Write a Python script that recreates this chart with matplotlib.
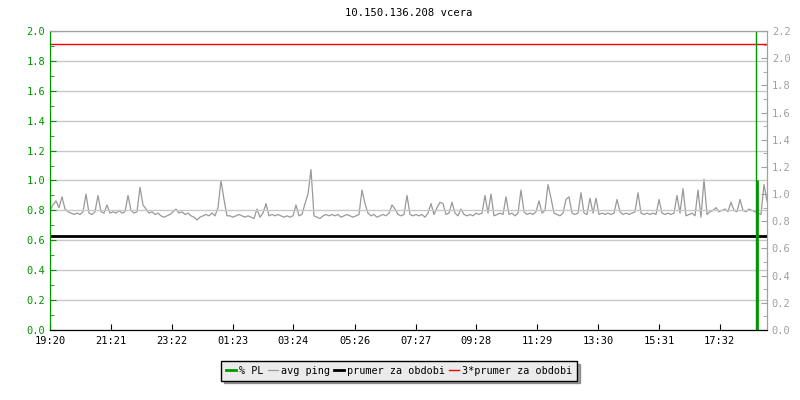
import matplotlib
matplotlib.use('Agg')
import matplotlib.pyplot as plt
import numpy as np
from matplotlib.ticker import MultipleLocator, FormatStrFormatter

title = '10.150.136.208 vcera'

# casova osa v minutach od 19:20
tick_minutes = [0, 121, 242, 363, 484, 606, 727, 848, 969, 1090, 1211, 1332]
tick_labels = ['19:20', '21:21', '23:22', '01:23', '03:24', '05:26',
               '07:27', '09:28', '11:29', '13:30', '15:31', '17:32']
t_end = 1426

# avg ping (prava osa)
ping = [
    0.88, 0.92, 0.95, 0.90, 0.98, 0.89, 0.87, 0.86, 0.85, 0.86,
    0.85, 0.87, 1.00, 0.86, 0.85, 0.87, 0.99, 0.87, 0.86, 0.92,
    0.86, 0.87, 0.86, 0.88, 0.86, 0.87, 0.99, 0.88, 0.86, 0.87,
    1.05, 0.92, 0.89, 0.86, 0.87, 0.85, 0.86, 0.84, 0.83, 0.84,
    0.85, 0.87, 0.89, 0.86, 0.87, 0.85, 0.86, 0.84, 0.83, 0.81,
    0.83, 0.84, 0.85, 0.84, 0.86, 0.84, 0.90, 1.10, 0.96, 0.84,
    0.84, 0.83, 0.84, 0.85, 0.84, 0.83, 0.84, 0.83, 0.82, 0.89,
    0.83, 0.86, 0.93, 0.84, 0.85, 0.84, 0.85, 0.84, 0.83, 0.84,
    0.83, 0.84, 0.92, 0.84, 0.85, 0.93, 1.00, 1.18, 0.84, 0.83,
    0.82, 0.84, 0.85, 0.84, 0.85, 0.84, 0.85, 0.83, 0.84, 0.85,
    0.84, 0.83, 0.84, 0.85, 1.03, 0.93, 0.86, 0.84, 0.85, 0.83,
    0.84, 0.85, 0.84, 0.86, 0.92, 0.89, 0.85, 0.84, 0.85, 0.99,
    0.85, 0.84, 0.85, 0.84, 0.85, 0.83, 0.86, 0.93, 0.85, 0.90,
    0.94, 0.93, 0.85, 0.86, 0.94, 0.86, 0.84, 0.89, 0.85, 0.84,
    0.85, 0.84, 0.86, 0.85, 0.86, 0.99, 0.86, 1.00, 0.84, 0.85,
    0.86, 0.85, 0.98, 0.85, 0.86, 0.84, 0.86, 1.03, 0.87, 0.85,
    0.86, 0.85, 0.87, 0.95, 0.86, 0.88, 1.07, 0.97, 0.86, 0.85,
    0.84, 0.86, 0.96, 0.98, 0.86, 0.85, 0.86, 1.01, 0.86, 0.85,
    0.97, 0.86, 0.97, 0.85, 0.86, 0.85, 0.86, 0.85, 0.86, 0.96,
    0.87, 0.85, 0.86, 0.85, 0.86, 0.87, 1.01, 0.86, 0.85, 0.86,
    0.85, 0.86, 0.85, 0.96, 0.86, 0.85, 0.86, 0.85, 0.86, 0.99,
    0.86, 1.04, 0.84, 0.85, 0.86, 0.84, 1.03, 0.83, 1.11, 0.85,
    0.87, 0.88, 0.90, 0.87, 0.88, 0.89, 0.87, 0.94, 0.88, 0.87,
    0.96, 0.88, 0.87, 0.89, 0.88, 0.87, 0.86, 0.85, 1.07, 0.95,
]
prumer = 0.695
prumer3 = 2.105

# % PL (leva osa)
pl_time = [1405, 1407]
pl_value = [2.5, 1.0]
pl_width = [1, 2]

GREEN = '#009600'
GRAY = '#a0a0a0'
PING = '#999999'
GRID = '#c8c8c8'
FS = 7.5

plt.rcParams['font.family'] = ['DejaVu Sans Mono']
plt.rcParams['font.size'] = FS

fig = plt.figure(figsize=(8, 4), dpi=100)
ax = fig.add_axes([50 / 800, 1 - 330 / 400, 717 / 800, 299 / 400])
ax2 = ax.twinx()
ax.set_zorder(ax2.get_zorder() + 1)
ax.patch.set_visible(False)

t = np.linspace(0, t_end, len(ping))
ax2.plot(t, ping, color=PING, lw=0.9, label='avg ping')
ax2.axhline(prumer, color='black', lw=2, label='prumer za obdobi')
ax2.axhline(prumer3, color='red', lw=1, label='3*prumer za obdobi')

for x, v, w in zip(pl_time, pl_value, pl_width):
    ax.vlines(x, 0, v, color=GREEN, lw=w)
pl_handle, = ax.plot([], [], color=GREEN, lw=2, label='% PL')

ax.set_xlim(0, t_end)
ax.set_ylim(0, 2.0)
ax2.set_ylim(0, 2.2)

ax.yaxis.set_major_locator(MultipleLocator(0.2))
ax.yaxis.set_minor_locator(MultipleLocator(0.1))
ax.yaxis.set_major_formatter(FormatStrFormatter('%.1f'))
ax2.yaxis.set_major_locator(MultipleLocator(0.2))
ax2.yaxis.set_minor_locator(MultipleLocator(0.1))
ax2.yaxis.set_major_formatter(FormatStrFormatter('%.1f'))

ax.set_xticks(tick_minutes)
ax.set_xticklabels(tick_labels)
ax.grid(axis='y', color=GRID, lw=1)

ax.tick_params(axis='y', which='both', direction='in', colors=GREEN, labelsize=FS)
ax.tick_params(axis='y', which='major', length=4)
ax.tick_params(axis='y', which='minor', length=3)
ax.tick_params(axis='x', direction='in', length=4, colors='black', labelsize=FS, pad=4)
ax2.tick_params(axis='y', which='both', direction='in', colors=GRAY, labelsize=FS)
ax2.tick_params(axis='y', which='major', length=4)
ax2.tick_params(axis='y', which='minor', length=3)

for a in (ax, ax2):
    a.spines['left'].set_color(GREEN)
    a.spines['bottom'].set_color('black')
    a.spines['right'].set_color(GRAY)
    a.spines['top'].set_color(GRAY)

ax.set_title(title, fontsize=7.6, pad=11)

h2, l2 = ax2.get_legend_handles_labels()
leg = fig.legend([pl_handle] + h2, ['% PL'] + l2, loc='center',
                 bbox_to_anchor=(0.499, 1 - 371 / 400), ncol=4,
                 handlelength=1.0, handletextpad=0.3, columnspacing=0.4,
                 fancybox=False, shadow=True, framealpha=1,
                 facecolor='#ebebeb', edgecolor='black', fontsize=7.3,
                 borderpad=0.45)
leg.get_frame().set_linewidth(1)

fig.savefig('out.png', dpi=100)
